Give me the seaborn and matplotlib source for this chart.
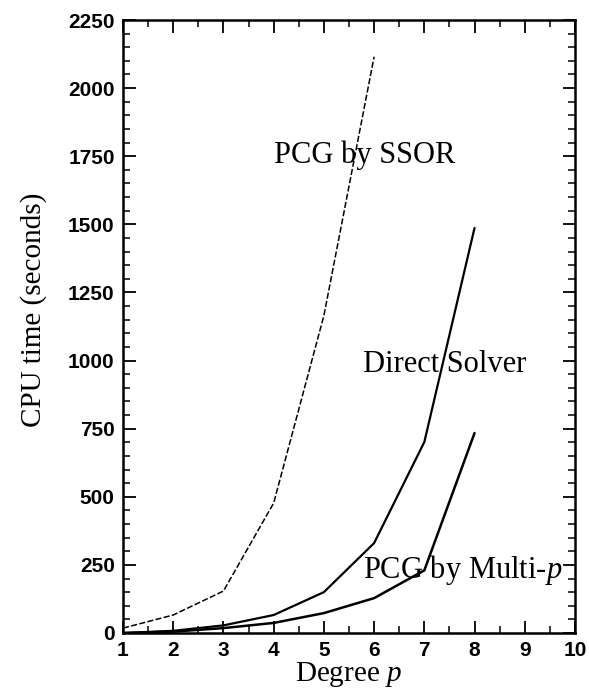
import matplotlib
matplotlib.use("Agg")
import matplotlib.pyplot as plt
import seaborn as sns
import pandas as pd
from matplotlib.ticker import MultipleLocator

degree_ssor = [1, 2, 3, 4, 5, 6]
cpu_ssor = [18, 66, 154, 477, 1165, 2115]
degree_direct = [1, 2, 3, 4, 5, 6, 7, 8]
cpu_direct = [0, 8, 28, 66, 150, 330, 701, 1487]
degree_multi = [1, 2, 3, 4, 5, 6, 7, 8]
cpu_multi = [0, 5, 18, 37, 73, 128, 230, 734]

labels = ["PCG by SSOR", "Direct Solver", "PCG by Multi-$p$"]

sns.set_style("ticks")
plt.rcParams['font.family'] = ['Liberation Sans', 'DejaVu Sans']
plt.rcParams['text.color'] = 'black'
plt.rcParams['axes.labelcolor'] = 'black'
plt.rcParams['xtick.color'] = 'black'
plt.rcParams['ytick.color'] = 'black'
plt.rcParams['mathtext.fontset'] = 'custom'
plt.rcParams['mathtext.rm'] = 'Liberation Serif'
plt.rcParams['mathtext.it'] = 'Liberation Serif:italic'

fig = plt.figure(figsize=(5.89, 6.94), dpi=100)
ax = fig.add_axes([123/589, 1-633/694, (575-123)/589, (633-20)/694])

df_s = pd.DataFrame({"x": degree_ssor, "y": cpu_ssor})
df_d = pd.DataFrame({"x": degree_direct, "y": cpu_direct})
df_m = pd.DataFrame({"x": degree_multi, "y": cpu_multi})

sns.lineplot(data=df_s, x="x", y="y", ax=ax, color="black", lw=1.1,
             linestyle=(0, (4, 1.5)))
sns.lineplot(data=df_d, x="x", y="y", ax=ax, color="black", lw=1.6)
sns.lineplot(data=df_m, x="x", y="y", ax=ax, color="black", lw=1.8)

ax.set_xlim(1, 10)
ax.set_ylim(0, 2250)
ax.xaxis.set_major_locator(MultipleLocator(1))
ax.xaxis.set_minor_locator(MultipleLocator(0.5))
ax.yaxis.set_major_locator(MultipleLocator(250))
ax.yaxis.set_minor_locator(MultipleLocator(50))
ax.tick_params(which="both", direction="in", top=True, right=True, color="black")
ax.tick_params(which="major", length=9, width=1.3, labelsize=15, pad=6)
ax.tick_params(which="minor", length=5, width=1.1)
for lab in ax.get_xticklabels() + ax.get_yticklabels():
    lab.set_fontweight("bold")
for sp in ax.spines.values():
    sp.set_linewidth(1.8)
    sp.set_color("black")

serif = ['Liberation Serif', 'DejaVu Serif']
ax.set_xlabel("Degree $p$", family=serif, fontsize=21, labelpad=0)
ax.set_ylabel("CPU time (seconds)", family=serif, fontsize=21)
ax.yaxis.set_label_coords(-0.169, 0.527)

ax.text(5.82, 1755, labels[0], family=serif, fontsize=22, ha="center", va="center")
ax.text(7.41, 984, labels[1], family=serif, fontsize=22, ha="center", va="center")
ax.text(7.77, 231, labels[2], family=serif, fontsize=22, ha="center", va="center")

fig.savefig("out.png", dpi=100)
